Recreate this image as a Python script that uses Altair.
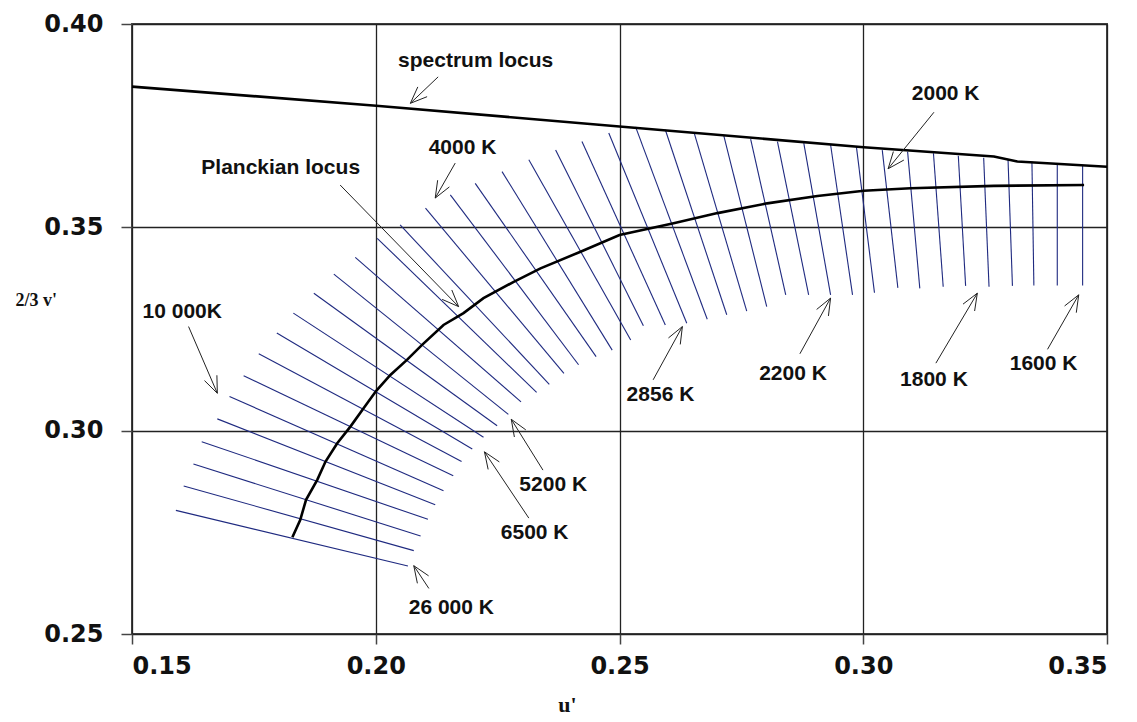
import math
import altair as alt
import pandas as pd

# ---------------- data ----------------
spec_u = [0.15, 0.2001, 0.25, 0.3001, 0.3268, 0.3316, 0.35]
spec_v = [0.3846, 0.3799, 0.3748, 0.3697, 0.3674, 0.3662, 0.3649]

planck_u = [0.1829, 0.1845, 0.1857, 0.1880, 0.1897, 0.1921, 0.1948, 0.1975, 0.2001,
            0.2030, 0.2064, 0.2095, 0.2139, 0.2180, 0.2221, 0.2283, 0.2338, 0.2420,
            0.2500, 0.2611, 0.2701, 0.2803, 0.2906, 0.3001, 0.3097, 0.3268, 0.3453]
planck_v = [0.2738, 0.2780, 0.2830, 0.2879, 0.2924, 0.2969, 0.3010, 0.3055, 0.3098,
            0.3137, 0.3174, 0.3211, 0.3260, 0.3289, 0.3326, 0.3366, 0.3399, 0.3440,
            0.3481, 0.3510, 0.3535, 0.3559, 0.3577, 0.3590, 0.3596, 0.3602, 0.3604]

iso_u1 = [0.1590, 0.1606, 0.1626, 0.1643, 0.1675, 0.1700, 0.1729, 0.1760, 0.1797, 0.1831,
          0.1873, 0.1914, 0.1958, 0.2003, 0.2050, 0.2102, 0.2153, 0.2204, 0.2259, 0.2314,
          0.2369, 0.2423, 0.2478, 0.2533, 0.2594, 0.2653, 0.2714, 0.2769, 0.2824, 0.2878,
          0.2933, 0.2986, 0.3039, 0.3091, 0.3144, 0.3195, 0.3247, 0.3297, 0.3346, 0.3398,
          0.3450]
iso_v1 = [0.2804, 0.2864, 0.2918, 0.2973, 0.3029, 0.3084, 0.3135, 0.3189, 0.3240, 0.3289,
          0.3338, 0.3385, 0.3426, 0.3473, 0.3506, 0.3547, 0.3580, 0.3608, 0.3637, 0.3666,
          0.3690, 0.3711, 0.3732, 0.3747, 0.3740, 0.3733, 0.3725, 0.3717, 0.3711, 0.3707,
          0.3703, 0.3698, 0.3690, 0.3686, 0.3682, 0.3676, 0.3671, 0.3666, 0.3662, 0.3658,
          0.3653]
iso_u2 = [0.2066, 0.2078, 0.2092, 0.2107, 0.2122, 0.2139, 0.2159, 0.2176, 0.2198, 0.2221,
          0.2249, 0.2272, 0.2298, 0.2330, 0.2356, 0.2386, 0.2416, 0.2452, 0.2485, 0.2523,
          0.2549, 0.2594, 0.2638, 0.2680, 0.2720, 0.2761, 0.2802, 0.2841, 0.2888, 0.2933,
          0.2978, 0.3023, 0.3071, 0.3116, 0.3164, 0.3210, 0.3258, 0.3306, 0.3350, 0.3398,
          0.3450]
iso_v2 = [0.2667, 0.2705, 0.2741, 0.2782, 0.2818, 0.2852, 0.2889, 0.2924, 0.2955, 0.2984,
          0.3012, 0.3040, 0.3071, 0.3094, 0.3114, 0.3141, 0.3162, 0.3182, 0.3198, 0.3223,
          0.3258, 0.3260, 0.3264, 0.3274, 0.3285, 0.3294, 0.3305, 0.3334, 0.3334, 0.3334,
          0.3334, 0.3339, 0.3351, 0.3350, 0.3354, 0.3356, 0.3354, 0.3356, 0.3357, 0.3357,
          0.3357]

label_text = ["spectrum locus", "Planckian locus", "4000 K", "10 000K", "2000 K",
              "5200 K", "6500 K", "26 000 K", "2856 K", "2200 K", "1800 K", "1600 K"]
label_u = [0.2205, 0.1805, 0.2178, 0.1603, 0.3169, 0.2364, 0.2326, 0.2155, 0.2584,
           0.2856, 0.3145, 0.3370]
label_v = [0.3908, 0.3646, 0.3695, 0.3292, 0.3829, 0.2866, 0.2748, 0.2564, 0.3087,
           0.3139, 0.3125, 0.3163]

arrow_tail_u = [0.2128, 0.1927, 0.2163, 0.1616, 0.3145, 0.2343, 0.2314, 0.2109, 0.2569,
                0.2870, 0.3149, 0.3378]
arrow_tail_v = [0.3870, 0.3604, 0.3658, 0.3256, 0.3783, 0.2903, 0.2785, 0.2612, 0.3125,
                0.3189, 0.3166, 0.3200]
arrow_tip_u = [0.2071, 0.2170, 0.2122, 0.1675, 0.3051, 0.2278, 0.2223, 0.2078, 0.2629,
               0.2933, 0.3234, 0.3442]
arrow_tip_v = [0.3805, 0.3305, 0.3572, 0.3092, 0.3644, 0.3028, 0.2948, 0.2668, 0.3256,
               0.3326, 0.3338, 0.3334]

X_DOMAIN = [0.15, 0.35]
Y_DOMAIN = [0.25, 0.40]
X_TICKS = [0.15, 0.20, 0.25, 0.30, 0.35]
Y_TICKS = [0.25, 0.30, 0.35, 0.40]

W, H = 975, 610

# ---------------- tables ----------------
spec_df = pd.DataFrame({"u": spec_u, "v": spec_v, "i": range(len(spec_u))})
planck_df = pd.DataFrame({"u": planck_u, "v": planck_v, "i": range(len(planck_u))})
iso_df = pd.DataFrame({"u": iso_u1, "v": iso_v1, "u2": iso_u2, "v2": iso_v2})
label_df = pd.DataFrame({"t": label_text, "u": label_u, "v": label_v})

# arrow shafts and open heads (heads derived geometrically from tail/tip)
sx = W / (X_DOMAIN[1] - X_DOMAIN[0])
sy = H / (Y_DOMAIN[1] - Y_DOMAIN[0])
segs = []
for tu, tv, pu, pv in zip(arrow_tail_u, arrow_tail_v, arrow_tip_u, arrow_tip_v):
    segs.append({"u": tu, "v": tv, "u2": pu, "v2": pv})
    dx, dy = (pu - tu) * sx, (pv - tv) * sy
    L = math.hypot(dx, dy)
    ux, uy = dx / L, dy / L
    for ang in (math.radians(22), -math.radians(22)):
        bx = ux * math.cos(ang) - uy * math.sin(ang)
        by = ux * math.sin(ang) + uy * math.cos(ang)
        segs.append({"u": pu, "v": pv,
                     "u2": pu - 18 * bx / sx, "v2": pv - 18 * by / sy})
arrow_df = pd.DataFrame(segs)

xs = alt.Scale(domain=X_DOMAIN, nice=False, zero=False)
ys = alt.Scale(domain=Y_DOMAIN, nice=False, zero=False)

x_axis = alt.Axis(values=X_TICKS, format=".2f", title="u'", grid=True,
                  labelPadding=10, tickSize=10,
                  titleFont="Liberation Serif", titleFontSize=22, titleFontWeight="bold",
                  titleX=435, titleY=70, titleBaseline="middle", titleAlign="center")
y_axis = alt.Axis(values=Y_TICKS, format=".2f", title="2/3 v'", grid=True,
                  labelPadding=18, tickSize=11,
                  titleAngle=0, titleAlign="left", titleBaseline="middle",
                  titleX=-117, titleY=276,
                  titleFont="Liberation Serif", titleFontSize=18, titleFontWeight="bold")

base_x = alt.X("u:Q", scale=xs, axis=x_axis)
base_y = alt.Y("v:Q", scale=ys, axis=y_axis)

iso = alt.Chart(iso_df).mark_rule(color="#1f2a80", strokeWidth=1.1).encode(
    x=base_x, y=base_y, x2="u2:Q", y2="v2:Q")

spec = alt.Chart(spec_df).mark_line(color="black", strokeWidth=2.6).encode(
    x=alt.X("u:Q", scale=xs), y=alt.Y("v:Q", scale=ys), order="i:Q")

planck = alt.Chart(planck_df).mark_line(color="black", strokeWidth=2.6).encode(
    x=alt.X("u:Q", scale=xs), y=alt.Y("v:Q", scale=ys), order="i:Q")

arrows = alt.Chart(arrow_df).mark_rule(color="#222", strokeWidth=1).encode(
    x=alt.X("u:Q", scale=xs), y=alt.Y("v:Q", scale=ys), x2="u2:Q", y2="v2:Q")

labels = alt.Chart(label_df).mark_text(
    font="Liberation Sans", fontSize=21, fontWeight="bold", color="#111",
    align="center", baseline="middle").encode(
    x=alt.X("u:Q", scale=xs), y=alt.Y("v:Q", scale=ys), text="t:N")

chart = alt.layer(iso, spec, planck, arrows, labels).properties(
    width=W, height=H,
    autosize=alt.AutoSizeParams(type="none"),
    padding={"left": 124, "top": 16, "right": 20, "bottom": 90},
).configure_view(
    stroke="#444", strokeWidth=2
).configure_axis(
    domain=False, gridColor="#222", gridWidth=1.3, gridOpacity=1,
    tickColor="#444", tickWidth=1.5,
    labelFont="DejaVu Sans", labelFontWeight="bold", labelFontSize=24,
    labelColor="#111", titleColor="#111"
)

chart.save("out.html", embed_options={"renderer": "svg", "actions": False})
